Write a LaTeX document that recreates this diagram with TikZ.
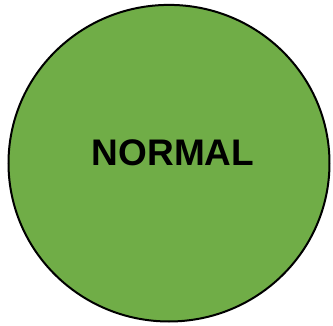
\documentclass[tikz,border=0pt]{standalone}
\usepackage{fontspec}
\setmainfont{Liberation Sans}
\definecolor{okgreen}{HTML}{70AD47}
\begin{document}
\begin{tikzpicture}[x=1pt,y=1pt,
  blob/.style={draw=black,line width=2pt,fill=okgreen},
  label/.style={font=\fontsize{37}{41}\selectfont\bfseries,text=black,inner sep=0pt}]
\useasboundingbox (0,0) rectangle (333,325);
\coordinate (c) at (169,161.8);
\draw[blob] (c) ellipse [x radius=160.5, y radius=158.3];
\node[label] (t) at (173,172) {NORMAL};
\end{tikzpicture}
\end{document}
